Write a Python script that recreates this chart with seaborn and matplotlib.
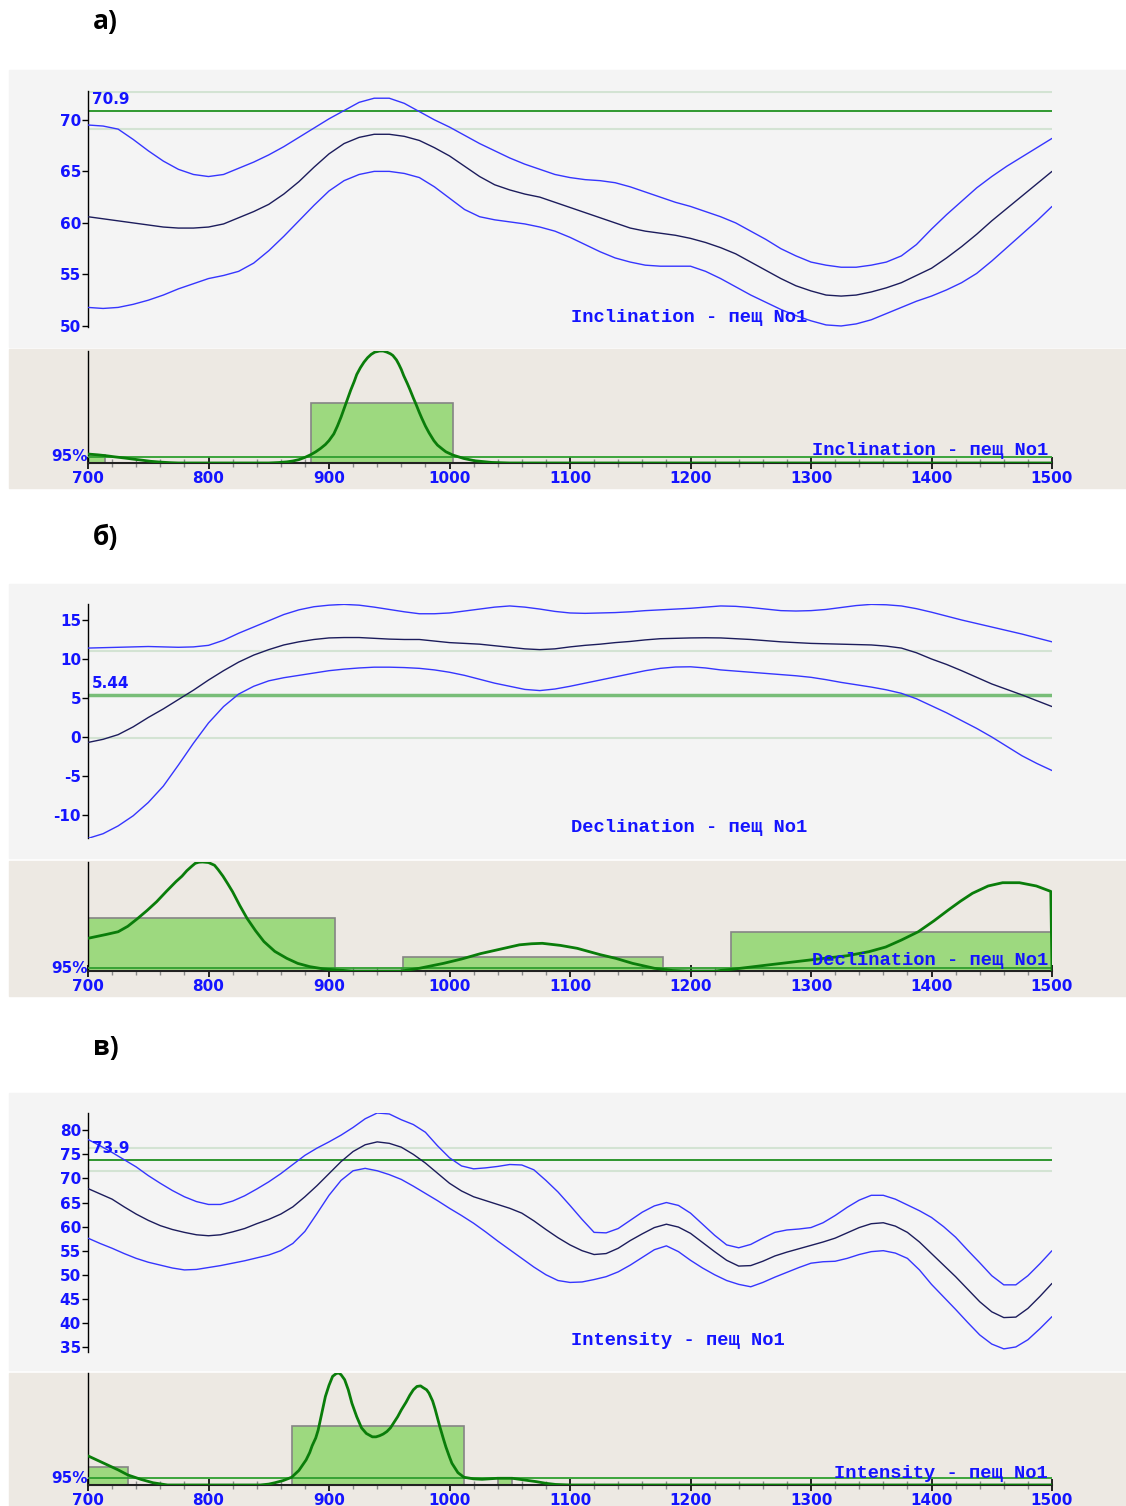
import matplotlib
matplotlib.use('Agg')
import matplotlib.pyplot as plt
from matplotlib.patches import Rectangle
from matplotlib.ticker import MultipleLocator
import seaborn as sns

W, H = 1126, 1506

# ---------------- data ----------------
xtick_vals = [700, 800, 900, 1000, 1100, 1200, 1300, 1400, 1500]

# a) Inclination (read every 12.5 years)
inc_x = [700 + 12.5 * i for i in range(65)]
inc_upper = [69.5, 69.4, 69.1, 68.1, 67.0, 66.0, 65.2, 64.7, 64.5, 64.7, 65.3, 65.9, 66.6,
             67.4, 68.3, 69.2, 70.1, 70.9, 71.7, 72.1, 72.1, 71.6, 70.8, 70.0, 69.3, 68.5,
             67.7, 67.0, 66.3, 65.7, 65.2, 64.7, 64.4, 64.2, 64.1, 63.9, 63.5, 63.0, 62.5,
             62.0, 61.6, 61.1, 60.6, 60.0, 59.2, 58.4, 57.5, 56.8, 56.2, 55.9, 55.7, 55.7,
             55.9, 56.2, 56.8, 57.9, 59.4, 60.8, 62.1, 63.4, 64.5, 65.5, 66.4, 67.3, 68.2]
inc_mid = [60.6, 60.4, 60.2, 60.0, 59.8, 59.6, 59.5, 59.5, 59.6, 59.9, 60.5, 61.1, 61.8,
           62.8, 64.0, 65.4, 66.7, 67.7, 68.3, 68.6, 68.6, 68.4, 68.0, 67.3, 66.5, 65.5,
           64.5, 63.7, 63.2, 62.8, 62.5, 62.0, 61.5, 61.0, 60.5, 60.0, 59.5, 59.2, 59.0,
           58.8, 58.5, 58.1, 57.6, 57.0, 56.2, 55.4, 54.6, 53.9, 53.4, 53.0, 52.9, 53.0,
           53.3, 53.7, 54.2, 54.9, 55.6, 56.6, 57.7, 58.9, 60.2, 61.4, 62.6, 63.8, 65.0]
inc_lower = [51.8, 51.7, 51.8, 52.1, 52.5, 53.0, 53.6, 54.1, 54.6, 54.9, 55.3, 56.1, 57.3,
             58.7, 60.2, 61.7, 63.1, 64.1, 64.7, 65.0, 65.0, 64.8, 64.4, 63.5, 62.4, 61.3,
             60.6, 60.3, 60.1, 59.9, 59.6, 59.2, 58.6, 57.9, 57.2, 56.6, 56.2, 55.9, 55.8,
             55.8, 55.8, 55.3, 54.6, 53.8, 53.0, 52.3, 51.6, 51.0, 50.5, 50.1, 50.0, 50.2,
             50.6, 51.2, 51.8, 52.4, 52.9, 53.5, 54.2, 55.1, 56.3, 57.6, 58.9, 60.2, 61.6]
inc_mean, inc_ci = 70.9, (72.7, 69.1)
inc_yticks = [50, 55, 60, 65, 70]
inc_bar_left = [700, 885]
inc_bar_right = [714, 1003]
inc_bar_h = [0.07, 0.536]
inc_dens_x = [700, 708, 715, 722, 730, 738, 745, 752, 760, 768, 775, 850, 858, 865, 870, 875,
              880, 885, 889, 893, 897, 900, 904, 907, 910, 913, 916, 918, 921, 923, 926, 929,
              932, 935, 938, 942, 945, 948, 951, 953, 956, 958, 960, 962, 965, 967, 970, 972,
              975, 977, 980, 983, 987, 990, 994, 997, 1003, 1012, 1021, 1035, 1050, 1500]
inc_dens_y = [0.08, 0.073, 0.065, 0.055, 0.045, 0.034, 0.025, 0.015, 0.008, 0.003, 0.0, 0.0,
              0.004, 0.01, 0.018, 0.03, 0.05, 0.075, 0.1, 0.13, 0.165, 0.2, 0.26, 0.33, 0.41,
              0.5, 0.59, 0.65, 0.73, 0.79, 0.85, 0.9, 0.94, 0.97, 0.99, 1.0, 1.0, 0.99, 0.975,
              0.96, 0.92, 0.88, 0.835, 0.78, 0.71, 0.66, 0.58, 0.53, 0.45, 0.40, 0.33, 0.27,
              0.2, 0.16, 0.125, 0.1, 0.07, 0.04, 0.02, 0.005, 0.0, 0.0]

# б) Declination (read every 12.5 years)
dec_x = [700 + 12.5 * i for i in range(65)]
dec_upper = [11.4, 11.45, 11.5, 11.55, 11.6, 11.55, 11.5, 11.55, 11.75, 12.4, 13.3, 14.1,
             14.9, 15.7, 16.3, 16.7, 16.9, 17.0, 16.9, 16.65, 16.35, 16.05, 15.8, 15.8, 15.9,
             16.15, 16.4, 16.65, 16.8, 16.65, 16.4, 16.1, 15.9, 15.85, 15.9, 15.95, 16.05,
             16.2, 16.3, 16.4, 16.5, 16.65, 16.8, 16.75, 16.6, 16.4, 16.2, 16.15, 16.2,
             16.35, 16.6, 16.85, 17.0, 16.95, 16.8, 16.45, 16.0, 15.5, 15.0, 14.55, 14.1,
             13.65, 13.2, 12.7, 12.2]
dec_mid = [-0.7, -0.3, 0.3, 1.3, 2.5, 3.6, 4.8, 6.0, 7.3, 8.5, 9.6, 10.5, 11.2, 11.8, 12.2,
           12.5, 12.7, 12.75, 12.75, 12.65, 12.55, 12.5, 12.5, 12.3, 12.1, 12.0, 11.9, 11.7,
           11.5, 11.3, 11.2, 11.3, 11.55, 11.75, 11.9, 12.1, 12.25, 12.45, 12.6, 12.65,
           12.7, 12.72, 12.7, 12.6, 12.5, 12.35, 12.2, 12.1, 12.0, 11.95, 11.9, 11.85, 11.8,
           11.65, 11.4, 10.8, 10.0, 9.3, 8.5, 7.65, 6.8, 6.1, 5.4, 4.65, 3.9]
dec_lower = [-13.0, -12.4, -11.4, -10.1, -8.4, -6.3, -3.6, -0.8, 1.8, 3.9, 5.5, 6.5, 7.2,
             7.6, 7.9, 8.2, 8.5, 8.7, 8.85, 8.95, 8.95, 8.9, 8.8, 8.6, 8.3, 7.9, 7.4, 6.9,
             6.5, 6.1, 5.95, 6.15, 6.5, 6.9, 7.3, 7.7, 8.1, 8.5, 8.8, 8.97, 9.0, 8.85, 8.6,
             8.45, 8.3, 8.15, 8.0, 7.85, 7.65, 7.35, 7.0, 6.7, 6.4, 6.05, 5.6, 4.9, 4.0, 3.1,
             2.1, 1.1, 0.0, -1.2, -2.4, -3.4, -4.3]
dec_mean, dec_ci = 5.44, (11.05, -0.17)
dec_yticks = [-10, -5, 0, 5, 10, 15]
dec_bar_left = [700, 961, 1234]
dec_bar_right = [905, 1177, 1500]
dec_bar_h = [0.483, 0.126, 0.355]
dec_dens_x = [700, 715, 725, 733, 741, 749, 757, 765, 773, 778, 782, 786, 789, 792, 795, 800,
              805, 808, 812, 816, 820, 826, 832, 839, 846, 855, 865, 874, 884, 895, 905, 920,
              960, 975, 995, 1010, 1026, 1042, 1058, 1068, 1077, 1092, 1106, 1125, 1138,
              1152, 1170, 1185, 1200, 1220, 1234, 1264, 1306, 1330, 1348, 1362, 1375, 1389,
              1402, 1414, 1424, 1434, 1447, 1459, 1473, 1487, 1499, 1500]
dec_dens_y = [0.30, 0.335, 0.36, 0.41, 0.48, 0.555, 0.636, 0.73, 0.82, 0.87, 0.92, 0.96,
              0.988, 0.998, 1.0, 0.995, 0.97, 0.93, 0.87, 0.8, 0.727, 0.6, 0.483, 0.37, 0.27,
              0.18, 0.116, 0.07, 0.04, 0.02, 0.01, 0.0, 0.0, 0.025, 0.07, 0.11, 0.16, 0.2,
              0.24, 0.25, 0.254, 0.235, 0.208, 0.15, 0.116, 0.07, 0.025, 0.005, 0.0, 0.0,
              0.015, 0.055, 0.11, 0.14, 0.177, 0.22, 0.284, 0.36, 0.46, 0.56, 0.64, 0.713,
              0.78, 0.81, 0.81, 0.78, 0.73, 0.0]

# в) Intensity (read every 10 years)
int_x = [700 + 10 * i for i in range(81)]
int_upper = [78.1, 76.8, 75.4, 73.9, 72.4, 70.6, 69.0, 67.5, 66.2, 65.2, 64.6, 64.6, 65.3,
             66.4, 67.8, 69.3, 71.0, 72.9, 74.8, 76.3, 77.6, 79.0, 80.6, 82.4, 83.6, 83.4,
             82.2, 81.2, 79.6, 76.8, 74.3, 72.6, 72.0, 72.2, 72.5, 72.9, 72.8, 71.8, 69.6,
             67.2, 64.4, 61.5, 58.8, 58.7, 59.6, 61.3, 63.0, 64.3, 65.0, 64.4, 62.8, 60.5,
             58.2, 56.2, 55.6, 56.3, 57.6, 58.8, 59.3, 59.5, 59.8, 60.8, 62.3, 64.0, 65.5,
             66.5, 66.5, 65.7, 64.5, 63.3, 61.9, 60.0, 57.8, 55.1, 52.5, 49.8, 47.9, 47.9,
             49.8, 52.3, 55.0]
int_mid = [67.9, 66.8, 65.7, 64.1, 62.6, 61.3, 60.2, 59.4, 58.8, 58.3, 58.1, 58.3, 58.9,
           59.6, 60.6, 61.5, 62.6, 64.1, 66.2, 68.5, 71.0, 73.5, 75.6, 77.0, 77.6, 77.3,
           76.5, 75.0, 73.2, 71.1, 69.0, 67.4, 66.2, 65.4, 64.6, 63.8, 62.8, 61.2, 59.4,
           57.7, 56.2, 55.0, 54.2, 54.4, 55.5, 57.1, 58.5, 59.8, 60.5, 59.9, 58.6, 56.7,
           54.8, 53.0, 51.8, 51.9, 52.8, 53.9, 54.7, 55.4, 56.1, 56.8, 57.6, 58.7, 59.8,
           60.6, 60.8, 60.1, 58.8, 56.8, 54.4, 52.0, 49.6, 47.0, 44.4, 42.3, 41.1, 41.2,
           43.0, 45.5, 48.2]
int_lower = [57.6, 56.5, 55.5, 54.4, 53.4, 52.6, 52.0, 51.4, 51.0, 51.1, 51.5, 51.9, 52.4,
             52.9, 53.5, 54.1, 55.0, 56.5, 59.0, 62.7, 66.5, 69.6, 71.6, 72.1, 71.6, 70.8,
             69.8, 68.4, 66.9, 65.4, 63.8, 62.3, 60.7, 58.9, 57.0, 55.2, 53.4, 51.6, 50.0,
             48.8, 48.4, 48.5, 49.0, 49.6, 50.6, 52.0, 53.6, 55.2, 56.0, 54.8, 53.0, 51.4,
             50.0, 48.8, 48.0, 47.5, 48.4, 49.5, 50.5, 51.5, 52.4, 52.7, 52.8, 53.4, 54.2,
             54.8, 55.0, 54.5, 53.4, 51.0, 48.0, 45.4, 42.8, 40.1, 37.5, 35.6, 34.6, 35.0,
             36.5, 38.8, 41.3]
int_mean, int_ci = 73.9, (76.3, 71.6)
int_yticks = [35, 40, 45, 50, 55, 60, 65, 70, 75, 80]
int_bar_left = [700, 869, 1040]
int_bar_right = [733, 1012, 1052]
int_bar_h = [0.158, 0.528, 0.065]
int_dens_x = [700, 708, 716, 725, 733, 744, 754, 766, 843, 850, 855, 862, 869, 875, 881, 884,
              886, 889, 891, 894, 897, 900, 903, 906, 908, 910, 913, 916, 919, 923, 927, 931,
              936, 939, 942, 945, 948, 951, 954, 957, 960, 964, 967, 970, 973, 976, 978, 981,
              983, 986, 988, 990, 992, 995, 997, 1000, 1002, 1007, 1012, 1020, 1027, 1040,
              1052, 1062, 1072, 1080, 1088, 1100, 1500]
int_dens_y = [0.26, 0.22, 0.18, 0.135, 0.09, 0.05, 0.02, 0.0, 0.0, 0.008, 0.02, 0.04, 0.069,
              0.13, 0.224, 0.29, 0.35, 0.42, 0.49, 0.64, 0.79, 0.89, 0.97, 0.995, 1.0, 0.985,
              0.94, 0.85, 0.73, 0.61, 0.51, 0.46, 0.43, 0.43, 0.44, 0.455, 0.477, 0.51, 0.56,
              0.61, 0.67, 0.74, 0.8, 0.85, 0.88, 0.885, 0.87, 0.85, 0.82, 0.75, 0.68, 0.6,
              0.52, 0.41, 0.34, 0.25, 0.194, 0.11, 0.069, 0.055, 0.051, 0.06, 0.06, 0.045,
              0.03, 0.015, 0.005, 0.0, 0.0]

# ---------------- style ----------------
BLUE = '#1414ff'
C_OUT = '#3535ff'
C_MID = '#1c1c5c'
C_CI = '#d3e3d3'
C_BAR = '#9dd97f'
C_BAREDGE = '#858585'
C_DENS = '#0a7d0a'
C_P95 = '#2f9f2f'
BG_TOP = '#f4f4f4'
BG_BOT = '#ede9e3'

sns.set_theme(style='white')
plt.rcParams['font.family'] = ['DejaVu Sans']

fig = plt.figure(figsize=(W / 100, H / 100), dpi=100)
fig.patch.set_facecolor('white')


def frac(x0, y0, x1, y1):
    return [x0 / W, 1 - y1 / H, (x1 - x0) / W, (y1 - y0) / H]


def bg(y0, y1, color):
    fig.patches.append(Rectangle((9 / W, 1 - y1 / H), (W - 9) / W, (y1 - y0) / H,
                                 transform=fig.transFigure, color=color, zorder=-5))


def panel(letter, y_title, bg_top, bg_bot, top_px, bot_px, ylim,
          xs, upper, mid, lower, mean, ci, yticks, mean_style,
          bar_l, bar_r, bar_h, dens_x, dens_y, p95, name, top_lab_y, bot_lab_y):
    bg(*bg_top, BG_TOP)
    bg(*bg_bot, BG_BOT)
    fig.text(93 / W, 1 - y_title / H, letter, fontsize=19, fontweight='bold',
             family='Open Sans', va='center', ha='left', color='black')

    # --- curve panel ---
    ax = fig.add_axes(frac(*top_px))
    ax.set_facecolor('none')
    for c in ci:
        ax.axhline(c, color=C_CI, lw=1.5, zorder=1)
    ax.axhline(mean, zorder=2, **mean_style)
    sns.lineplot(x=xs, y=upper, ax=ax, color=C_OUT, lw=1.0, estimator=None, zorder=3)
    sns.lineplot(x=xs, y=mid, ax=ax, color=C_MID, lw=1.0, estimator=None, zorder=3)
    sns.lineplot(x=xs, y=lower, ax=ax, color=C_OUT, lw=1.0, estimator=None, zorder=3)
    ax.set_xlim(700, 1500)
    ax.set_ylim(*ylim)
    ax.set_xticks([])
    ax.set_yticks(yticks)
    ax.set_yticklabels([str(t) for t in yticks], fontweight='bold', color=BLUE, fontsize=11)
    ax.tick_params(axis='y', direction='out', length=4, width=1, color='black', pad=1, left=True)
    for s in ['top', 'right', 'bottom']:
        ax.spines[s].set_visible(False)
    ax.spines['left'].set_color('black')
    ax.spines['left'].set_linewidth(1)
    ax.annotate(f'{mean}', xy=(0.004, mean), xycoords=('axes fraction', 'data'),
                xytext=(0, 2.5), textcoords='offset points', ha='left', va='bottom',
                color=BLUE, fontsize=11, fontweight='bold', zorder=5)
    ax.text(0.501, top_lab_y, name, transform=ax.transAxes, ha='left', va='center',
            color=BLUE, fontsize=13.5, fontweight='bold', family='Liberation Mono', zorder=5)
    ax.set_xlabel('')
    ax.set_ylabel('')

    # --- probability panel ---
    bx = fig.add_axes(frac(*bot_px))
    bx.set_facecolor('none')
    bx.bar(bar_l, bar_h, width=[r - l for l, r in zip(bar_l, bar_r)], align='edge',
           color=C_BAR, edgecolor=C_BAREDGE, lw=1.2, zorder=2)
    bx.axhline(p95, color=C_P95, lw=1.3, zorder=3)
    sns.lineplot(x=dens_x, y=dens_y, ax=bx, color=C_DENS, lw=2.0, estimator=None,
                 sort=False, zorder=4)
    bx.set_xlim(700, 1500)
    bx.set_ylim(0, 1)
    bx.set_yticks([])
    bx.xaxis.set_minor_locator(MultipleLocator(20))
    bx.set_xticks(xtick_vals)
    bx.set_xticklabels([str(t) for t in xtick_vals], fontweight='bold', color=BLUE, fontsize=11)
    bx.tick_params(axis='x', which='major', direction='inout', length=9, width=1.2,
                   color='black', pad=1, bottom=True)
    bx.tick_params(axis='x', which='minor', direction='inout', length=6, width=1,
                   color='#8a8a8a', bottom=True)
    for s in ['top', 'right']:
        bx.spines[s].set_visible(False)
    bx.spines['left'].set_color('black')
    bx.spines['left'].set_linewidth(1)
    bx.spines['bottom'].set_color('#222222')
    bx.spines['bottom'].set_linewidth(1.5)
    bx.text(0, p95, '95%', transform=bx.get_yaxis_transform(), ha='right', va='center',
            color=BLUE, fontsize=11, fontweight='bold')
    bx.text(0.996, bot_lab_y, name, transform=bx.transAxes, ha='right', va='center',
            color=BLUE, fontsize=13.5, fontweight='bold', family='Liberation Mono', zorder=5)
    bx.set_xlabel('')
    bx.set_ylabel('')


panel('а)', 22, (70, 347), (349, 488), (88, 91, 1052, 327), (88, 351, 1052, 463),
      (49.9, 72.8), inc_x, inc_upper, inc_mid, inc_lower, inc_mean, inc_ci, inc_yticks,
      dict(color='#0f8a0f', lw=1.2), inc_bar_left, inc_bar_right, inc_bar_h,
      inc_dens_x, inc_dens_y, 0.054, 'Inclination - пещ No1', 0.042, 0.116)

panel('б)', 537, (584, 858), (861, 996), (88, 604, 1052, 838), (88, 862, 1052, 971),
      (-12.95, 17.05), dec_x, dec_upper, dec_mid, dec_lower, dec_mean, dec_ci, dec_yticks,
      dict(color='#78bd78', lw=2.5), dec_bar_left, dec_bar_right, dec_bar_h,
      dec_dens_x, dec_dens_y, 0.025, 'Declination - пещ No1', 0.043, 0.10)

panel('в)', 1047, (1093, 1370), (1373, 1506), (88, 1113, 1052, 1352), (88, 1373, 1052, 1485),
      (33.95, 83.6), int_x, int_upper, int_mid, int_lower, int_mean, int_ci, int_yticks,
      dict(color='#1f8f1f', lw=1.3), int_bar_left, int_bar_right, int_bar_h,
      int_dens_x, int_dens_y, 0.06, 'Intensity - пещ No1', 0.05, 0.107)

fig.savefig('out.png', dpi=100, facecolor='white')
